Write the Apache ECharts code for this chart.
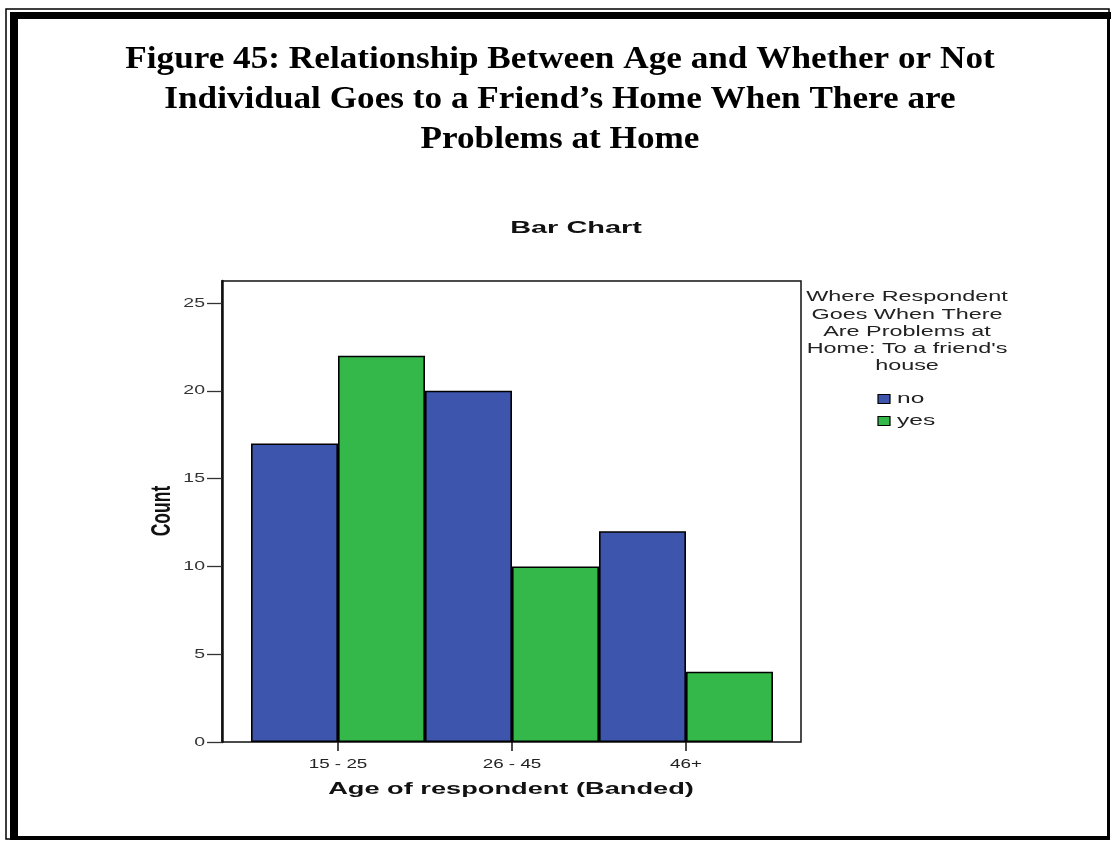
<!DOCTYPE html>
<html><head><meta charset="utf-8">
<script src="https://cdn.jsdelivr.net/npm/echarts@6/dist/echarts.min.js"></script>
<style>html,body{margin:0;padding:0;background:#fff}#c{width:1111px;height:841px}</style>
</head><body><div id="c"></div>
<script>
const categories = ['15 - 25', '26 - 45', '46+'];
const noValues = [17, 20, 12];
const yesValues = [22, 10, 4];
const seriesNames = ['no', 'yes'];
const yTicks = [0, 5, 10, 15, 20, 25];
const figTitle = 'Figure 45: Relationship Between Age and Whether or Not\nIndividual Goes to a Friend\u2019s Home When There are\nProblems at Home';
const chartTitle = 'Bar Chart';
const legendTitle = 'Where Respondent\nGoes When There\nAre Problems at\nHome: To a friend\'s\nhouse';
const xName = 'Age of respondent (Banded)';
const yName = 'Count';

const COLORS = ['#3d55ac', '#35b84a'];
const YMAX = 26.25;
const SANS = 'Liberation Sans';
const chart = echarts.init(document.getElementById('c'), null, {renderer: 'canvas'});

chart.setOption({
  animation: false,
  backgroundColor: '#fff',
  grid: [
    {left: 222, top: 281, width: 579, height: 461, show: true, borderColor: '#111', borderWidth: 1.5, backgroundColor: 'transparent'},
    {left: 251, top: 281, width: 522, height: 461}
  ],
  xAxis: [
    {gridIndex: 0, type: 'value', min: 0, max: 1, show: false},
    {gridIndex: 1, type: 'category', data: categories, boundaryGap: true,
     axisLine: {show: false},
     axisTick: {show: true, alignWithLabel: true, length: 9, lineStyle: {color: '#111', width: 1.5}},
     axisLabel: {show: false}}
  ],
  yAxis: [
    {gridIndex: 0, type: 'value', min: 0, max: YMAX,
     axisLine: {show: true, lineStyle: {color: '#111', width: 2.5}}, splitLine: {show: false},
     axisTick: {show: true, length: 15, customValues: yTicks, lineStyle: {color: '#333', width: 1.3}},
     axisLabel: {show: false}},
    {gridIndex: 1, type: 'value', min: 0, max: YMAX, show: false}
  ],
  series: [
    {name: seriesNames[0], type: 'bar', xAxisIndex: 1, yAxisIndex: 1, data: noValues,
     barWidth: 87, barGap: '0%', itemStyle: {color: COLORS[0], borderColor: '#000', borderWidth: 1.6}},
    {name: seriesNames[1], type: 'bar', xAxisIndex: 1, yAxisIndex: 1, data: yesValues,
     barWidth: 87, barGap: '0%', itemStyle: {color: COLORS[1], borderColor: '#000', borderWidth: 1.6}}
  ]
});

function txt(text, x, y, o) {
  return {type: 'text', silent: true, x: x, y: y, scaleX: o.sx || 1, scaleY: o.sy || 1, rotation: o.rot || 0,
    style: {text: text, fill: o.color || '#222', font: o.font, align: o.align || 'center',
      verticalAlign: o.va || 'middle', lineHeight: o.lh}};
}

const g = [
  // page frame
  {type: 'rect', silent: true, shape: {x: 6, y: 9, width: 1103, height: 830}, style: {fill: 'none', stroke: '#000', lineWidth: 1.5}},
  {type: 'rect', silent: true, shape: {x: 10, y: 12, width: 8, height: 828}, style: {fill: '#000'}},
  {type: 'rect', silent: true, shape: {x: 10, y: 12, width: 1101, height: 7}, style: {fill: '#000'}},
  {type: 'rect', silent: true, shape: {x: 1107, y: 12, width: 3, height: 828}, style: {fill: '#000'}},
  {type: 'rect', silent: true, shape: {x: 10, y: 836, width: 1100, height: 4}, style: {fill: '#000'}},
  // titles
  txt(figTitle, 560, 40, {font: 'bold 32px "Liberation Serif"', sx: 1.1, va: 'top', lh: 40, color: '#000'}),
  txt(chartTitle, 576, 228, {font: 'bold 17px "' + SANS + '"', sx: 1.7, color: '#111'}),
  txt(legendTitle, 907, 289, {font: '14px "' + SANS + '"', sx: 1.67, va: 'top', lh: 17.2, color: '#222'}),
  txt(xName, 511, 789, {font: 'bold 17px "' + SANS + '"', sx: 1.6, color: '#111'}),
  txt(yName, 163, 511, {font: 'bold 17.5px "' + SANS + '"', sy: 1.55, rot: Math.PI / 2, color: '#111'})
];

// y tick labels positioned through the axis scale
yTicks.forEach(v => {
  const py = chart.convertToPixel({yAxisIndex: 0}, v);
  g.push(txt(String(v), 205, py, {font: '13px "' + SANS + '"', sx: 1.5, align: 'right', color: '#333'}));
});
// x category labels positioned through the axis scale
categories.forEach(c => {
  const px = chart.convertToPixel({xAxisIndex: 1}, c);
  g.push(txt(c, px, 764, {font: '13px "' + SANS + '"', sx: 1.45, color: '#222'}));
});
// legend swatches and labels
seriesNames.forEach((n, i) => {
  const cy = 399 + i * 22;
  g.push({type: 'rect', silent: true, shape: {x: 878, y: cy - 4.5, width: 12, height: 9},
    style: {fill: COLORS[i], stroke: '#000', lineWidth: 1.2}});
  g.push(txt(n, 897, cy, {font: '14px "' + SANS + '"', sx: 1.75, align: 'left', color: '#222'}));
});

chart.setOption({graphic: g});
</script></body></html>
